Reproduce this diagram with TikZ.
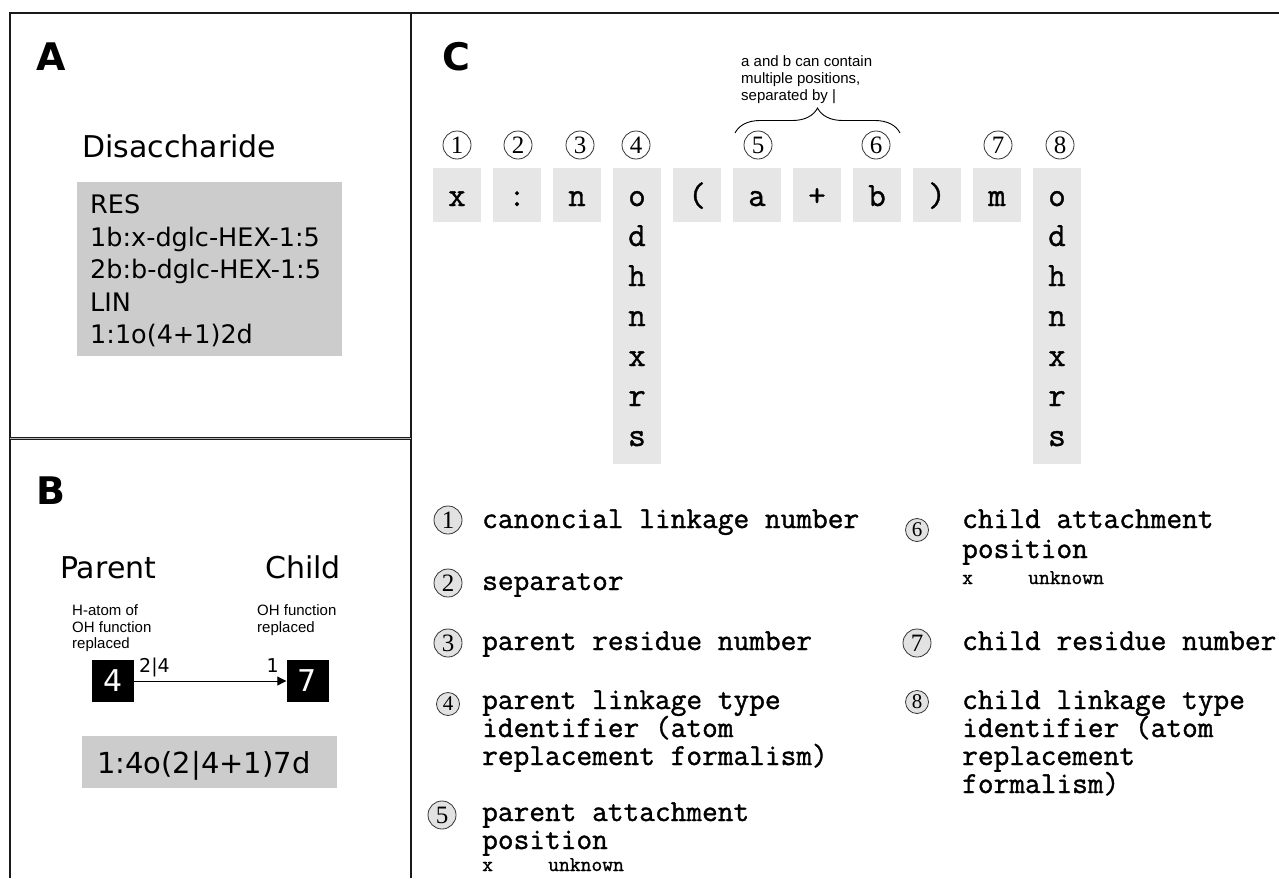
\documentclass[tikz,border=0pt]{standalone}
\usepackage{fontspec}
\setmainfont{DejaVu Sans}
\newfontfamily\notefont{Liberation Sans}
\newfontfamily\codefont{Latin Modern Mono}[FakeBold=1.2]
\newfontfamily\digitfont{Liberation Serif}
\usetikzlibrary{decorations.pathreplacing,arrows.meta}
\newcommand\fsz[1]{\fontsize{#1}{#1}\selectfont}
\definecolor{boxgray}{HTML}{CCCCCC}
\definecolor{cellgray}{HTML}{E6E6E6}
\definecolor{circgray}{HTML}{E2E2E2}
\definecolor{rulecol}{HTML}{1A1A1A}

\tikzset{
  framerule/.style={draw=rulecol, line width=1.5pt},
  framedouble/.style={draw=rulecol, line width=0.9pt, double=gray!55, double distance=1.3pt},
  panellabel/.style={anchor=base west, inner sep=0, font=\bfseries\fsz{38}},
  txt/.style={anchor=base west, inner sep=0},
  graybox/.style={fill=boxgray, draw=none, anchor=north west, inner sep=0},
  resbox/.style={fill=black, text=white, minimum size=42pt, inner sep=0, font=\fsz{30}},
  cellbox/.style={fill=cellgray, draw=none, minimum width=48pt, minimum height=54pt, inner sep=0},
  rowchar/.style={anchor=base, inner sep=0, font=\codefont\fsz{34}},
  hcirc/.style={circle, draw=black!80, line width=0.8pt, minimum size=28pt, inner sep=0,
                fill=white, font=\digitfont\fsz{25}},
  lcirc/.style={hcirc, fill=circgray},
  scirc/.style={lcirc, minimum size=23pt, font=\digitfont\fsz{21}},
  legtext/.style={txt, font=\codefont\fsz{30.5}},
  legsmall/.style={txt, font=\codefont\fsz{21}},
  note/.style={txt, font=\notefont\fsz{15}},
  curlybrace/.style={decorate, decoration={brace, amplitude=25pt}, line width=0.9pt},
  linkarrow/.style={line width=1pt, -{Triangle[length=9pt, width=9pt]}},
}

\newcommand\rowcell[3]{%
  \node[cellbox] (#1) at (#2,195) {};
  \node[rowchar] (#1t) at (#2,206) {#3};}

\begin{document}
\begin{tikzpicture}[x=1pt, y=-1pt]
\useasboundingbox (0,0) rectangle (1279,878);
\fill[white] (0,0) rectangle (1279,878);

% ---------- panel frames ----------
\draw[framerule] (10,878) -- (10,13) -- (1279,13);
\draw[framerule] (411,13) -- (411,878);
\draw[framedouble] (10,438.5) -- (411,438.5);

% ---------- panel A ----------
\node[panellabel] (labA) at (36,70) {A};
\node[txt, font=\fsz{30}] (disacc) at (82,157) {Disaccharide};
\node[graybox, minimum width=265pt, minimum height=174pt] (glycobox) at (77,182) {};
\begin{scope}[every node/.style={txt, font=\fsz{25.5}}]
  \node (resA) at (90,213) {RES};
  \node (resB) at (90,246) {1b:x-dglc-HEX-1:5};
  \node (resC) at (90,278) {2b:b-dglc-HEX-1:5};
  \node (resD) at (90,311) {LIN};
  \node (resE) at (90,343) {1:1o(4+1)2d};
\end{scope}

% ---------- panel B ----------
\node[panellabel] (labB) at (36,504) {B};
\node[txt, font=\fsz{30}] (parent) at (60,578) {Parent};
\node[txt, font=\fsz{30}] (child) at (265,578) {Child};
\node[note] (pn1) at (72,615) {H-atom of};
\node[note] (pn2) at (72,632) {OH function};
\node[note] (pn3) at (72,648) {replaced};
\node[note] (cn1) at (257,615) {OH function};
\node[note] (cn2) at (257,632) {replaced};
\node[resbox] (res4) at (113,681) {4};
\node[resbox] (res7) at (307.5,681) {7};
\draw[linkarrow] (res4.east) -- (res7.west);
\node[txt, font=\fsz{19}] (pos24) at (139,672) {2|4};
\node[txt, font=\fsz{19}, anchor=base east] (pos1) at (279,672) {1};
\node[graybox, minimum width=255pt, minimum height=52pt] (linkbox) at (82,736) {};
\node[txt, font=\fsz{29}] (linkcode) at (97,773) {1:4o(2|4+1)7d};

% ---------- panel C ----------
\node[panellabel] (labC) at (442,70) {C};

% header row of the linkage notation
\rowcell{c1}{457}{x}
\rowcell{c2}{517}{:}
\rowcell{c3}{577}{n}
\rowcell{c5}{697}{(}
\rowcell{c6}{757}{a}
\rowcell{c7}{817}{+}
\rowcell{c8}{877}{b}
\rowcell{c9}{937}{)}
\rowcell{c10}{997}{m}
\node[cellbox, minimum height=296pt] (c4) at (637,316) {};
\node[cellbox, minimum height=296pt] (c11) at (1057,316) {};
\foreach \ch [count=\j from 0] in {o,d,h,n,x,r,s}{
  \node[rowchar] (c4l\j) at (637,206+40*\j) {\ch};
  \node[rowchar] (c11l\j) at (1057,206+40*\j) {\ch};
}

% circled position numbers above the row
\node[hcirc] (h1) at (457,145) {1};
\node[hcirc] (h2) at (518,145) {2};
\node[hcirc] (h3) at (580,145) {3};
\node[hcirc] (h4) at (636,145) {4};
\node[hcirc] (h5) at (758,145) {5};
\node[hcirc] (h6) at (876,145) {6};
\node[hcirc] (h7) at (998,145) {7};
\node[hcirc] (h8) at (1060,145) {8};

% brace over positions 5 and 6
\coordinate (brL) at (735,133);
\coordinate (brR) at (900,133);
\draw[curlybrace] (brL) -- (brR);
\node[note] (bn1) at (741,66) {a and b can contain};
\node[note] (bn2) at (741,83) {multiple positions,};
\node[note] (bn3) at (741,100) {separated by |};

% legend, left column
\node[lcirc] (k1) at (448,520) {1};
\node[legtext] (t1) at (482,528) {canoncial linkage number};
\node[lcirc] (k2) at (448,583) {2};
\node[legtext] (t2) at (482,590) {separator};
\node[lcirc] (k3) at (448,643) {3};
\node[legtext] (t3) at (482,650) {parent residue number};
\node[scirc] (k4) at (448,704) {4};
\node[legtext] (t4a) at (482,709) {parent linkage type};
\node[legtext] (t4b) at (482,737) {identifier (atom};
\node[legtext] (t4c) at (482,765) {replacement formalism)};
\node[lcirc] (k5) at (442,815) {5};
\node[legtext] (t5a) at (482,821) {parent attachment};
\node[legtext] (t5b) at (482,849) {position};
\node[legsmall] (t5c) at (482,871) {x};
\node[legsmall] (t5d) at (548,871) {unknown};

% legend, right column
\node[scirc] (k6) at (917,530) {6};
\node[legtext] (t6a) at (962,528) {child attachment};
\node[legtext] (t6b) at (962,558) {position};
\node[legsmall] (t6c) at (962,584) {x};
\node[legsmall] (t6d) at (1028,584) {unknown};
\node[lcirc] (k7) at (917,643) {7};
\node[legtext] (t7) at (962,650) {child residue number};
\node[scirc] (k8) at (917,702) {8};
\node[legtext] (t8a) at (962,709) {child linkage type};
\node[legtext] (t8b) at (962,737) {identifier (atom};
\node[legtext] (t8c) at (962,765) {replacement};
\node[legtext] (t8d) at (962,793) {formalism)};
\end{tikzpicture}
\end{document}
